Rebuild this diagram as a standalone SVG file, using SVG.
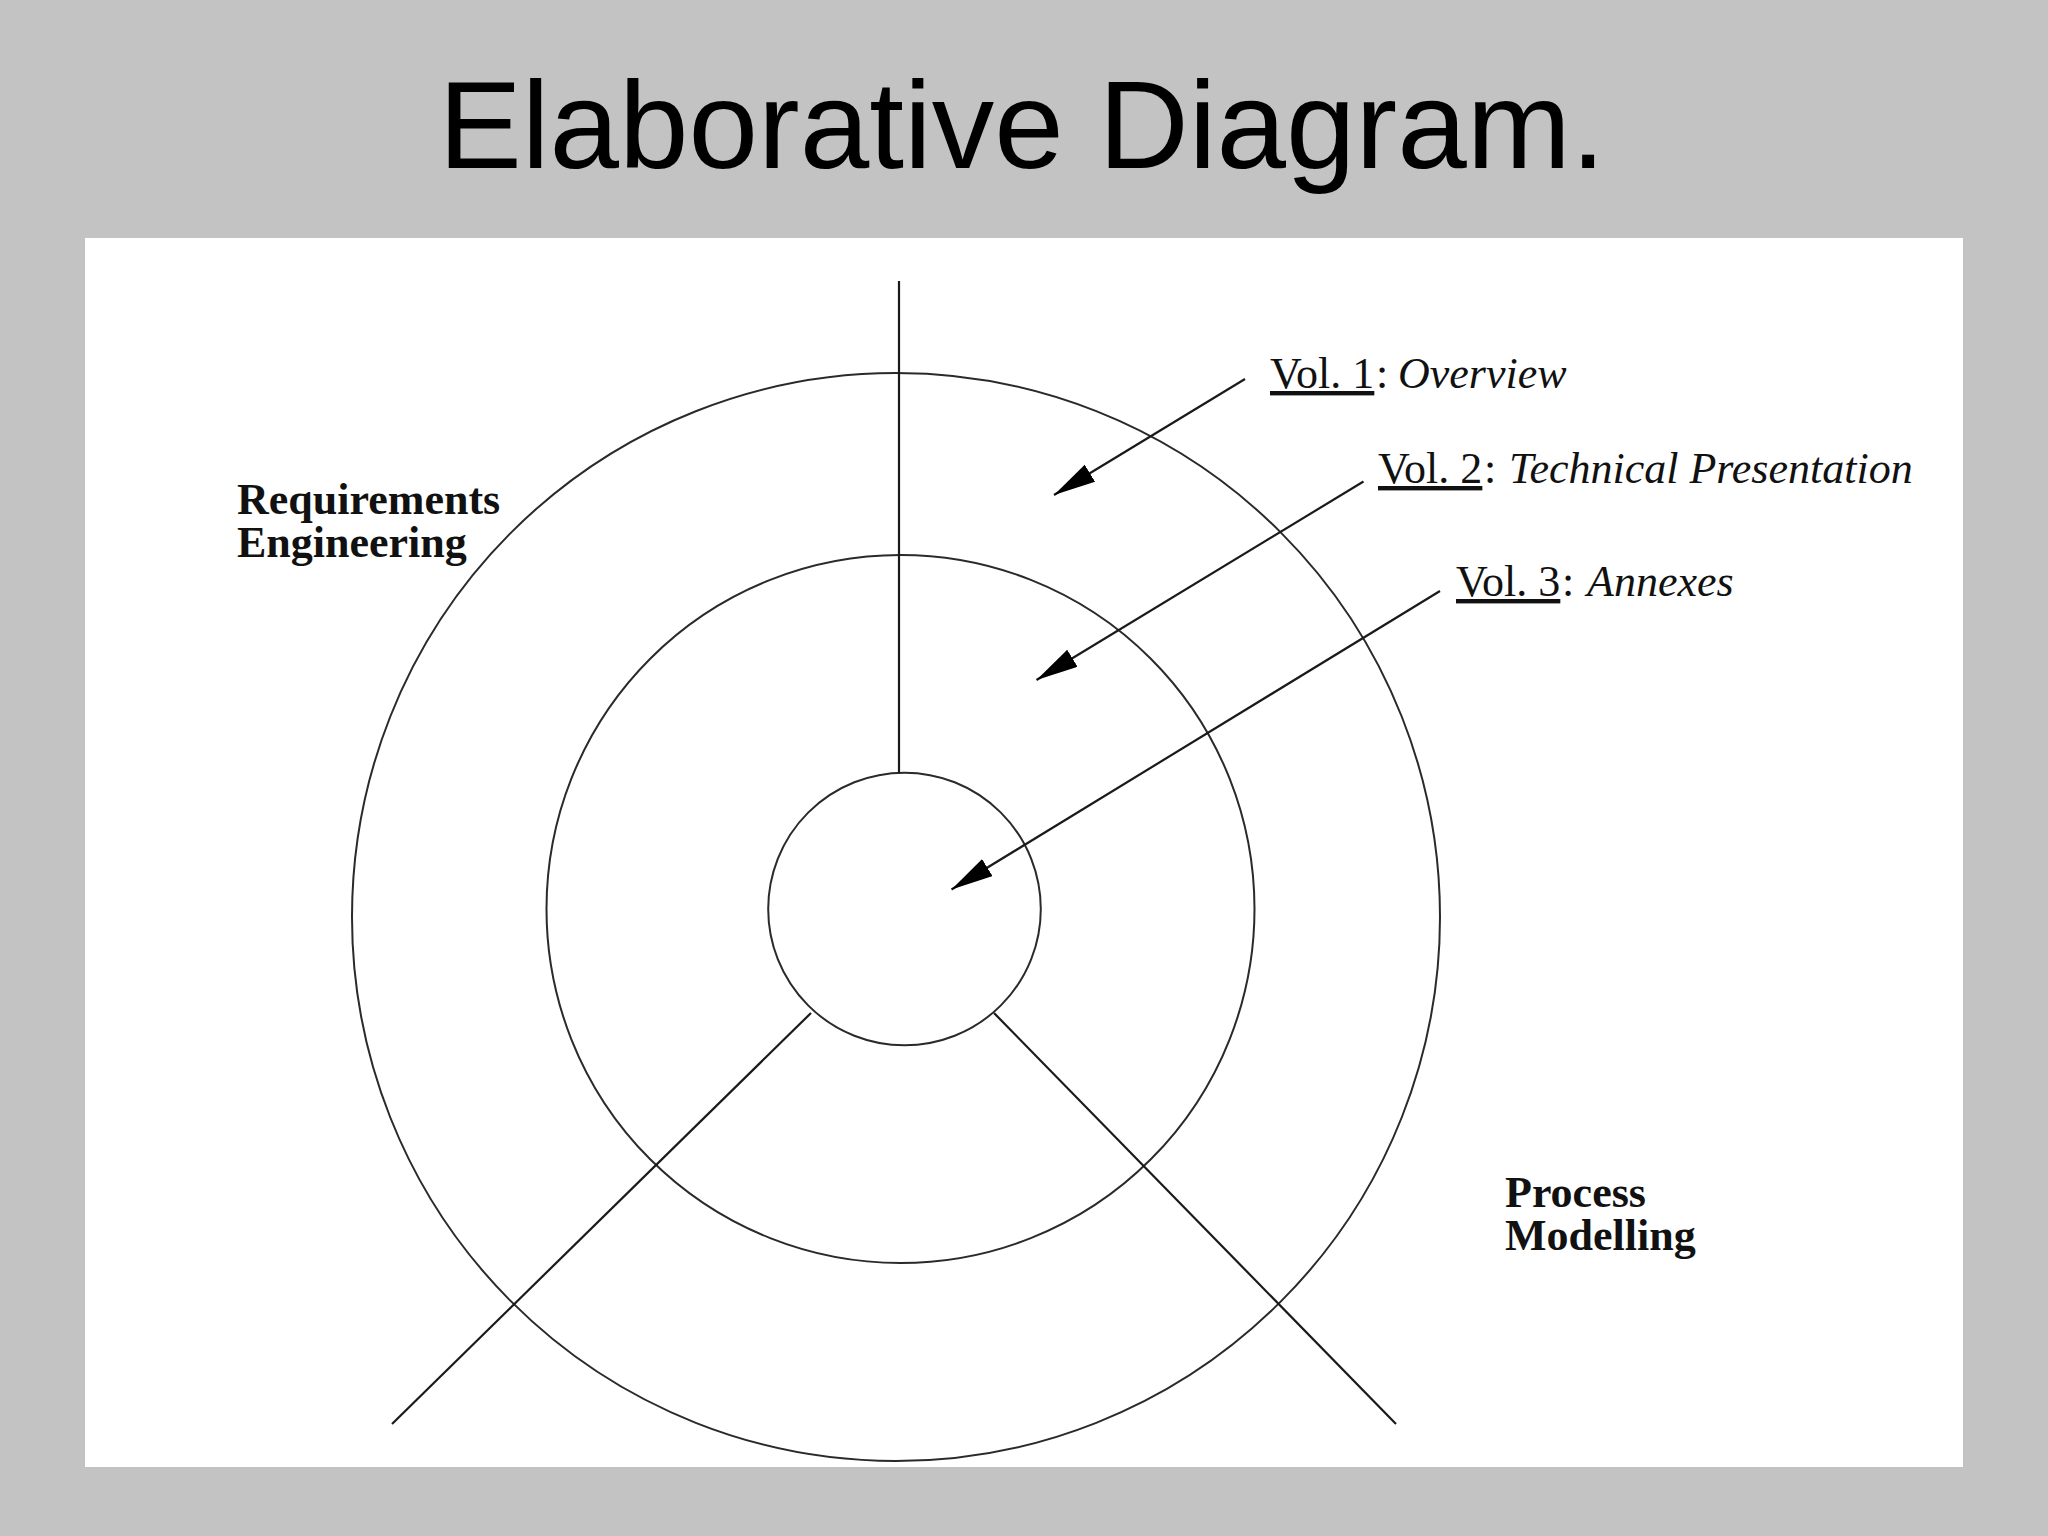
<svg xmlns="http://www.w3.org/2000/svg" width="2048" height="1536" viewBox="0 0 2048 1536">
  <style>
    .title { font-family: "Liberation Sans", Arial, sans-serif; font-size: 125px; fill: #000; }
    .vol { font-family: "Liberation Serif", "Times New Roman", serif; font-size: 44px; fill: #111; }
    .u { text-decoration: underline; }
    .it { font-style: italic; }
    .area { font-family: "Liberation Serif", "Times New Roman", serif; font-size: 44px; font-weight: bold; fill: #111; }
    .ring { fill: none; stroke: #2a2a2a; stroke-width: 2; }
    .axis { fill: none; stroke: #1a1a1a; stroke-width: 2.2; }
    .pointer { fill: none; stroke: #1a1a1a; stroke-width: 2.2; marker-end: url(#arrow); }
  </style>
  <defs>
    <marker id="arrow" markerUnits="userSpaceOnUse" markerWidth="44" markerHeight="22" refX="42" refY="10" orient="auto">
      <path d="M0,0 L42,10 L0,20 Z" fill="#000"/>
    </marker>
  </defs>

  <rect id="background" x="0" y="0" width="2048" height="1536" fill="#c3c3c3"/>
  <text id="title" class="title" x="1022" y="168" text-anchor="middle">Elaborative Diagram.</text>
  <rect id="panel" x="85" y="238" width="1878" height="1229" fill="#ffffff"/>

  <g id="ring-outer"><circle class="ring" cx="896" cy="917" r="544"/></g>
  <g id="ring-middle"><circle class="ring" cx="900.5" cy="909" r="354"/></g>
  <g id="ring-inner"><circle class="ring" cx="904.5" cy="909" r="136.3"/></g>

  <g id="connectors">
    <line class="axis" x1="899" y1="281" x2="899" y2="772.7"/>
    <line class="axis" x1="811" y1="1013" x2="392" y2="1424"/>
    <line class="axis" x1="994" y1="1013" x2="1396" y2="1424"/>
    <line class="pointer" x1="1245" y1="379" x2="1054" y2="495"/>
    <line class="pointer" x1="1363.5" y1="481.5" x2="1036.5" y2="680"/>
    <line class="pointer" x1="1440" y1="591" x2="951.5" y2="889.5"/>
  </g>

  <g id="label-vol1">
    <text class="vol u" x="1270" y="388">Vol. 1</text>
    <text class="vol" x="1376" y="388">:</text>
    <text class="vol it" x="1398" y="388">Overview</text>
  </g>
  <g id="label-vol2">
    <text class="vol u" x="1378" y="483">Vol. 2</text>
    <text class="vol" x="1484" y="483">:</text>
    <text class="vol it" x="1509" y="483">Technical Presentation</text>
  </g>
  <g id="label-vol3">
    <text class="vol u" x="1456" y="596">Vol. 3</text>
    <text class="vol" x="1562" y="596">:</text>
    <text class="vol it" x="1587" y="596">Annexes</text>
  </g>

  <g id="label-requirements">
    <text class="area" x="237" y="514"><tspan x="237" y="514">Requirements</tspan><tspan x="237" y="557">Engineering</tspan></text>
  </g>
  <g id="label-process">
    <text class="area" x="1505" y="1207"><tspan x="1505" y="1207">Process</tspan><tspan x="1505" y="1250">Modelling</tspan></text>
  </g>
</svg>
